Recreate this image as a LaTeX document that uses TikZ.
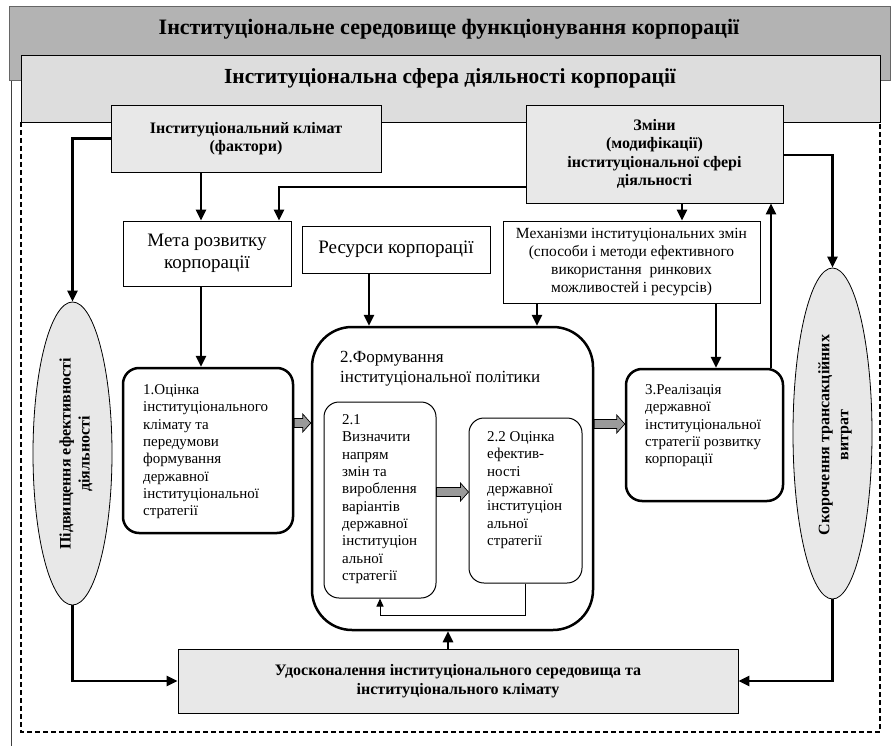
\documentclass[tikz,border=0pt]{standalone}
\usepackage{fontspec}
\setmainfont{Liberation Serif}
\usetikzlibrary{arrows.meta,calc,shapes.geometric}
\definecolor{bandgray}{HTML}{B3B3B3}
\definecolor{spheregray}{HTML}{DDDDDD}
\definecolor{boxgray}{HTML}{E8E8E8}
\definecolor{arrowgray}{HTML}{9A9A9A}
\newcommand\fsz[2]{\fontsize{#1}{#2}\selectfont}
\newcommand\blockarr[2]{%
  \draw[fill=arrowgray, line width=0.7pt] let \p1=(#1), \p2=(#2) in
  (\x1,\y1+4.5pt) -- (\x2-8pt,\y1+4.5pt) -- (\x2-8pt,\y1+9pt) -- (\x2,\y1)
  -- (\x2-8pt,\y1-9pt) -- (\x2-8pt,\y1-4.5pt) -- (\x1,\y1-4.5pt) -- cycle;}
\begin{document}
\begin{tikzpicture}[x=1pt,y=-1pt,
  sqbox/.style={draw, line width=0.8pt, inner sep=0pt, align=center},
  greybox/.style={sqbox, fill=boxgray, font=\fsz{16}{18.5}\bfseries},
  plainbox/.style={sqbox, fill=white},
  rbox/.style={draw, line width=2.5pt, rounded corners=16pt, fill=white, inner sep=0pt},
  rthin/.style={draw, line width=1pt, rounded corners=15pt, fill=white, inner sep=0pt},
  oval/.style={draw, ellipse, line width=0.8pt, fill=boxgray, inner sep=0pt},
  txt/.style={anchor=north west, inner sep=0pt, align=left, font=\fsz{15}{17.3}},
  vtxt/.style={rotate=90, inner sep=0pt, align=center, font=\fsz{16}{19}\bfseries},
  tarrow/.style={line width=2.5pt, -{Triangle[length=11pt,width=10pt]}},
  tharrow/.style={line width=1pt, -{Triangle[length=8pt,width=7pt]}},
]
\useasboundingbox (0,0) rectangle (896,746);
% frames
\fill[white] (0,0) rectangle (896,746);
\draw[line width=1pt, black!75] (11,80) -- (11,746);
\draw[fill=bandgray, draw=black!60, line width=0.8pt] (9,6) rectangle (890,80);
\draw[fill=spheregray, line width=0.8pt] (21,55) rectangle (880,122);
\draw[line width=1.3pt, dash pattern=on 5pt off 3pt] (21,122) -- (21,732) -- (880,732) -- (880,122);
\node[inner sep=0pt, font=\fsz{22}{24}\bfseries] (title1) at (449,29) {Інституціональне середовище функціонування корпорації};
\node[inner sep=0pt, font=\fsz{21.5}{24}\bfseries] (title2) at (450,78) {Інституціональна сфера діяльності корпорації};

% boxes
\node[greybox, minimum width=270, minimum height=67] (klimat) at (246,138.5) {Інституціональний клімат\\(фактори)};
\node[greybox, minimum width=257, minimum height=98] (zminy) at (654.5,154) {Зміни\\(модифікації)\\інституціональної сфері\\діяльності};
\node[plainbox, minimum width=168, minimum height=65, font=\fsz{19}{22.5}] (meta) at (207,253.5) {Мета розвитку\\корпорації};
\node[plainbox, minimum width=188, minimum height=47, font=\fsz{19}{22}] (resursy) at (396,249.5) {Ресурси корпорації};
\node[plainbox, minimum width=257, minimum height=82, font=\fsz{15.5}{18}] (mech) at (631.5,262) {Механізми інституціональних змін\\(способи і методи ефективного\\використання\ \ ринкових\\можливостей і ресурсів)};

\node[oval, minimum width=79, minimum height=303] (ellL) at (72.5,453.5) {};
\node[vtxt] (ellLt) at (76,454) {Підвищення ефективності\\діяльності};
\node[oval, minimum width=79, minimum height=331] (ellR) at (832.5,433.5) {};
\node[vtxt] (ellRt) at (835,435) {Скорочення трансакційних\\витрат};

\node[rbox, minimum width=170, minimum height=165] (b1) at (208,450.5) {};
\node[txt] (b1t) at (143,384.5) {1.Оцінка\\інституціонального\\клімату та\\передумови\\формування\\державної\\інституціональної\\стратегії};

\node[rbox, rounded corners=40pt, minimum width=281, minimum height=303] (b2) at (452.5,478.5) {};
\node[txt, font=\fsz{17}{20}] (b2t) at (340,351) {2.Формування\\інституціональної політики};

\node[rthin, minimum width=112, minimum height=196] (b21) at (380,500) {};
\node[txt] (b21t) at (342,414.5) {2.1\\Визначити\\напрям\\змін та\\вироблення\\варіантів\\державної\\інституціон\\альної\\стратегії};

\node[rthin, minimum width=113, minimum height=165] (b22) at (525.5,500.5) {};
\node[txt] (b22t) at (487,431.5) {2.2 Оцінка\\ефектив-\\ності\\державної\\інституціон\\альної\\стратегії};

\node[rbox, minimum width=157, minimum height=132] (b3) at (704.5,435) {};
\node[txt] (b3t) at (645,384.5) {3.Реалізація\\державної\\інституціональної\\стратегії розвитку\\корпорації};

\node[greybox, minimum width=560, minimum height=64] (bottom) at (458,681) {Удосконалення інституціонального середовища та\\інституціонального клімату};

% helper coordinates
\coordinate (m1) at ($(meta.north)+(-6,0)$);
\coordinate (m2) at ($(meta.north)+(72,0)$);
\coordinate (m3) at ($(meta.south)+(-6,0)$);
\coordinate (zw) at ($(zminy.west)+(0,33)$);
\coordinate (z1) at ($(zminy.south)+(27.5,0)$);
\coordinate (r1) at ($(resursy.south)+(-27,0)$);
\coordinate (k1) at ($(mech.south)+(-94.5,0)$);
\coordinate (k2) at ($(mech.south)+(84.5,0)$);
\coordinate (s3) at ($(b3.north)+(66.5,0)$);
\coordinate (u1) at ($(bottom.north)+(-10,0)$);
\coordinate (a1) at ($(b1.east)+(0,-27.5)$);
\coordinate (a2) at ($(b21.east)+(0,-8)$);
\coordinate (a3) at ($(b2.east)+(0,-54.5)$);

% connectors
\draw[tarrow] (klimat.south -| m1) -- (m1);
\draw[tarrow] (zw) -| (m2);
\draw[tarrow] (klimat.west) -| (ellL.north);
\draw[tarrow] ([yshift=-1pt]zminy.east) -| (ellR.north);
\draw[tarrow] (z1) -- (z1 |- mech.north);
\draw[tarrow] (r1) -- (r1 |- b2.north);
\draw[tarrow] (m3) -- (m3 |- b1.north);
\draw[tarrow] (k1) -- (k1 |- b2.north);
\draw[tarrow] (k2) -- (k2 |- b3.north);
\draw[tarrow] (s3) -- (s3 |- zminy.south);
\draw[tharrow] (b22.south) -- ++(0,32) -| (b21.south);
\draw[tarrow] (u1) -- (u1 |- b2.south);
\draw[tarrow] (ellL.south) |- (bottom.west);
\draw[tarrow] (ellR.south) |- (bottom.east);
\blockarr{a1}{b2.west |- a1}
\blockarr{a2}{b22.west |- a2}
\blockarr{a3}{b3.west |- a3}
\end{tikzpicture}
\end{document}
